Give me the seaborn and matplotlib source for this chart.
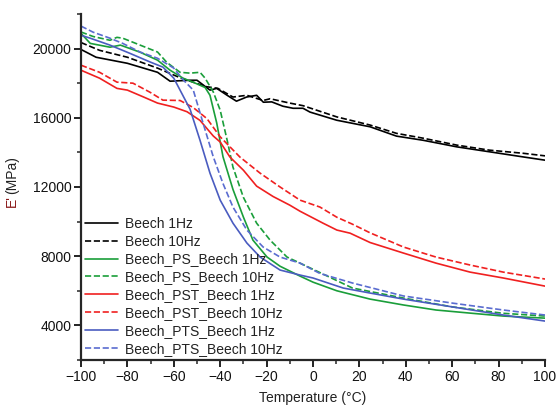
import matplotlib
matplotlib.use("Agg")
import matplotlib.pyplot as plt
import seaborn as sns
import pandas as pd
from matplotlib.ticker import MultipleLocator

sns.set_style("ticks")
plt.rcParams['font.family'] = ['Liberation Sans', 'DejaVu Sans']

# ---- data ----
beech_1_T = [-100, -93.5, -80, -67, -61.6, -53, -50, -44.4, -41.5, -37, -33, -28.6, -24.3, -21.4, -17.8, -13, -8.6, -4.3, -1.3, 10.2, 24.6, 36, 47.5, 62, 76.3, 90.5, 100]
beech_1_E = [19950, 19500, 19150, 18630, 18115, 18170, 18170, 17600, 17700, 17300, 16960, 17200, 17300, 16900, 16920, 16670, 16550, 16550, 16330, 15860, 15480, 14940, 14700, 14320, 14030, 13740, 13550]

beech_10_T = [-100, -92, -80, -67, -57, -46, -41, -34.5, -28.5, -21.5, -18.5, -10, -4.3, 10.3, 24.6, 36, 47.5, 62, 76, 90.5, 100]
beech_10_E = [20350, 19900, 19500, 18870, 18300, 17800, 17700, 17200, 17300, 17000, 17100, 16850, 16700, 16050, 15580, 15100, 14820, 14420, 14130, 13950, 13800]

ps_1_T = [-100, -96, -87.5, -83, -74.5, -67, -61.6, -56, -51.7, -48.7, -46.5, -44.4, -41.5, -38.8, -34.5, -30, -25.9, -19.8, -14.2, -5.6, 0, 10.3, 24.6, 39, 53, 67.7, 82, 100]
ps_1_E = [20880, 20300, 20080, 20200, 19790, 19330, 18750, 18290, 18060, 17880, 17750, 17300, 15700, 13750, 11860, 10260, 8930, 7950, 7420, 6850, 6500, 6000, 5520, 5180, 4890, 4710, 4540, 4420]

ps_10_T = [-100, -94.8, -87.5, -84.5, -82, -74.5, -67, -63, -57.3, -53, -48.7, -46.5, -43, -40, -37, -34.5, -30, -24.3, -18.5, -11.2, -5.6, 17, 39, 60, 82, 100]
ps_10_E = [20960, 20700, 20480, 20650, 20600, 20200, 19800, 19200, 18630, 18580, 18630, 18290, 17500, 16440, 14700, 13150, 11400, 9910, 8930, 7950, 7600, 6160, 5580, 5070, 4700, 4540]

pst_1_T = [-100, -92, -84.5, -80, -73, -67, -60, -54.3, -48.7, -43, -40, -35.8, -30, -24.3, -17.2, -10, -5.6, 4.3, 10.3, 16, 24.6, 39, 53, 67.7, 82, 100]
pst_1_E = [18750, 18290, 17700, 17600, 17200, 16850, 16620, 16350, 15850, 14950, 14600, 13730, 12970, 12050, 11450, 10950, 10600, 9910, 9510, 9330, 8790, 8180, 7600, 7080, 6740, 6270]

pst_10_T = [-100, -92, -84.5, -77.6, -70.3, -64.7, -57.3, -51.7, -45.7, -40, -31.5, -22.8, -14.2, -5.6, 3, 10.3, 17, 24.6, 39, 53, 67.7, 82, 100]
pst_10_E = [19040, 18630, 18060, 18000, 17480, 17020, 17000, 16600, 15950, 14900, 13730, 12800, 12000, 11240, 10840, 10250, 9850, 9350, 8530, 7950, 7490, 7080, 6680]

pts_1_T = [-100, -96, -87.5, -79, -70.3, -64.7, -60, -57.3, -53, -48.7, -44.4, -40, -34.5, -28.5, -22.8, -14.2, -5.6, 0, 13, 24.6, 39, 60, 82, 100]
pts_1_E = [20770, 20600, 20200, 19730, 19230, 18930, 18290, 17600, 16500, 14700, 12800, 11240, 9910, 8760, 7950, 7200, 6910, 6740, 6160, 5870, 5520, 5070, 4600, 4250]

pts_10_T = [-100, -94.8, -87.5, -82, -74.5, -67, -60, -56, -51.6, -47.4, -43, -38.8, -34.5, -28.5, -21.5, -14.2, -5.6, 3, 17, 39, 60, 82, 100]
pts_10_E = [21300, 20950, 20600, 20300, 19800, 19440, 18870, 18200, 17600, 15700, 13750, 12200, 10840, 9510, 8530, 7950, 7600, 7000, 6450, 5700, 5290, 4890, 4600]

x_ticks = [-100, -80, -60, -40, -20, 0, 20, 40, 60, 80, 100]
x_tick_labels = ["\u2212100", "\u221280", "\u221260", "\u221240", "\u221220", "0", "20", "40", "60", "80", "100"]
y_ticks = [4000, 8000, 12000, 16000, 20000]

labels = ["Beech 1Hz", "Beech 10Hz", "Beech_PS_Beech 1Hz", "Beech_PS_Beech 10Hz",
          "Beech_PST_Beech 1Hz", "Beech_PST_Beech 10Hz", "Beech_PTS_Beech 1Hz", "Beech_PTS_Beech 10Hz"]
series = [(beech_1_T, beech_1_E), (beech_10_T, beech_10_E), (ps_1_T, ps_1_E), (ps_10_T, ps_10_E),
          (pst_1_T, pst_1_E), (pst_10_T, pst_10_E), (pts_1_T, pts_1_E), (pts_10_T, pts_10_E)]
colors = ["#000000", "#000000", "#1a9e3a", "#1a9e3a", "#f02020", "#f02020", "#4a5cc0", "#5a6cd0"]
styles = ["-", "--", "-", "--", "-", "--", "-", "--"]

fs = 10

fig = plt.figure(figsize=(5.57, 4.09), dpi=100)
ax = fig.add_axes([0.1454, 0.1198, 0.8331, 0.846])

for lab, (T, E), c, ls in zip(labels, series, colors, styles):
    df = pd.DataFrame({"T": T, "E": E})
    sns.lineplot(data=df, x="T", y="E", ax=ax, color=c, linestyle=ls, lw=1.2,
                 label=lab, estimator=None, sort=False)

ax.set_xlim(-100, 100)
ax.set_ylim(2000, 22000)
ax.set_xticks(x_ticks)
ax.set_xticklabels(x_tick_labels)
ax.xaxis.set_minor_locator(MultipleLocator(10))
ax.set_yticks(y_ticks)
ax.set_yticklabels([str(v) for v in y_ticks])
ax.yaxis.set_minor_locator(MultipleLocator(2000))

for side in ["top", "right"]:
    ax.spines[side].set_visible(False)
for side in ["left", "bottom"]:
    ax.spines[side].set_linewidth(1.6)
ax.tick_params(which="major", direction="out", length=5, width=1.3, labelsize=fs, pad=2, colors="#111111")
ax.tick_params(which="minor", direction="out", length=3, width=1.1)

ax.set_xlabel("Temperature (\u00b0C)", fontsize=fs, labelpad=5, color="#222222")
ax.set_ylabel("")
fig.text(12/557, 1-207/409, "E'", rotation=90, color="#8b1a1a", fontsize=fs, ha="center", va="bottom")
fig.text(12/557, 1-194/409, "(MPa)", rotation=90, color="#222222", fontsize=fs, ha="center", va="bottom")

leg = ax.legend(loc="lower left", frameon=False, fontsize=fs, handlelength=2.4,
                labelspacing=0.28, borderaxespad=0.1, handletextpad=0.5, borderpad=0.2)
for t in leg.get_texts():
    t.set_color("#222222")

fig.savefig("out.png", dpi=100)
